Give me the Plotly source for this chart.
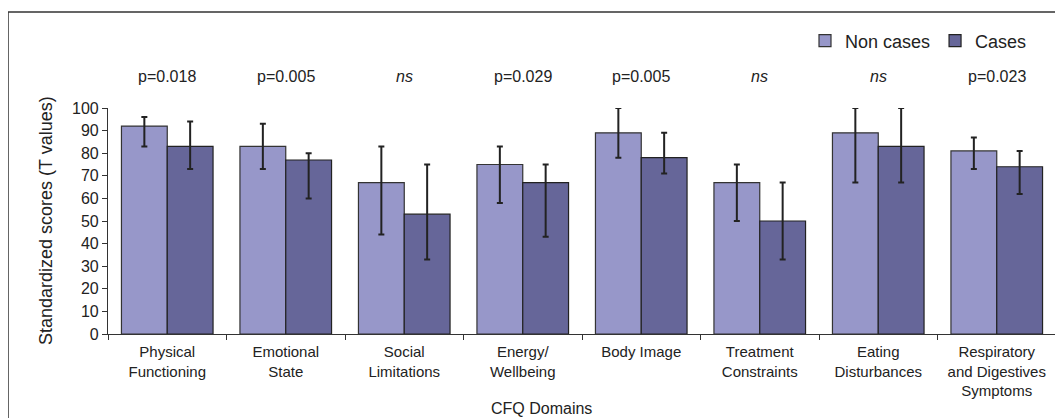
import plotly.graph_objects as go

categories = ["Physical<br>Functioning", "Emotional<br>State", "Social<br>Limitations",
              "Energy/<br>Wellbeing", "Body Image", "Treatment<br>Constraints",
              "Eating<br>Disturbances", "Respiratory<br>and Digestives<br>Symptoms"]
p_labels = ["p=0.018", "p=0.005", "<i>ns</i>", "p=0.029", "p=0.005", "<i>ns</i>", "<i>ns</i>", "p=0.023"]

non_cases = [92, 83, 67, 75, 89, 67, 89, 81]
non_cases_hi = [96, 93, 83, 83, 100, 75, 100, 87]
non_cases_lo = [83, 73, 44, 58, 78, 50, 67, 73]

cases = [83, 77, 53, 67, 78, 50, 83, 74]
cases_hi = [94, 80, 75, 75, 89, 67, 100, 81]
cases_lo = [73, 60, 33, 43, 71, 33, 67, 62]

FONT = "Liberation Sans, Arial, sans-serif"
OFF = 8  # page body margin
# target screen positions
SL, SR, ST, SB = 108, 1056, 108, 334
W, H = 1063 - OFF, 418 - OFF
L, T = SL - OFF, ST - OFF
R = W - (SR - OFF)
B = H - (SB - OFF)
pw, ph = SR - SL, SB - ST


def px_x(p):
    return (p - SL) / pw


def px_y(p):
    return (SB - p) / ph


def err(vals, hi, lo):
    return dict(type="data", symmetric=False,
                array=[h - v for v, h in zip(vals, hi)],
                arrayminus=[v - l for v, l in zip(vals, lo)],
                color="#222222", thickness=2, width=3)


fig = go.Figure()
fig.add_trace(go.Bar(name="Non cases", x=categories, y=non_cases,
                     marker=dict(color="#9797C9", line=dict(color="#333333", width=1.2)),
                     error_y=err(non_cases, non_cases_hi, non_cases_lo), cliponaxis=False))
fig.add_trace(go.Bar(name="Cases", x=categories, y=cases,
                     marker=dict(color="#666699", line=dict(color="#222222", width=1.2)),
                     error_y=err(cases, cases_hi, cases_lo), cliponaxis=False))

for c, p in zip(categories, p_labels):
    fig.add_annotation(x=c, y=px_y(77), xref="x", yref="paper", text=p, showarrow=False,
                       font=dict(size=16, color="#222222", family=FONT), yanchor="middle")

fig.add_annotation(x=px_x(46), y=px_y(221), xref="paper", yref="paper",
                   text="Standardized scores (T values)", textangle=-90, showarrow=False,
                   font=dict(size=18, color="#222222", family=FONT),
                   xanchor="center", yanchor="middle")
fig.add_annotation(x=px_x(541), y=px_y(408), xref="paper", yref="paper", text="CFQ Domains",
                   showarrow=False, font=dict(size=16, color="#222222", family=FONT),
                   xanchor="center", yanchor="middle")

fig.add_shape(type="rect", xref="paper", yref="paper",
              x0=px_x(8), x1=px_x(1080), y0=px_y(440), y1=px_y(12),
              line=dict(color="#333333", width=1.5))

fig.update_layout(
    width=W, height=H, margin=dict(l=L, r=R, t=T, b=B, autoexpand=False),
    plot_bgcolor="white", paper_bgcolor="white",
    barmode="group", bargap=0.227, bargroupgap=0,
    font=dict(family=FONT, color="#222222", size=14),
    showlegend=True,
    legend=dict(orientation="h", x=px_x(1032), xanchor="right", y=px_y(41), yanchor="middle",
                font=dict(size=18, family=FONT, color="#222222"), bgcolor="rgba(0,0,0,0)",
                itemwidth=30, tracegroupgap=0),
)
fig.update_xaxes(showline=True, linecolor="#333333", linewidth=1.2, ticks="outside",
                 tickson="boundaries", ticklen=5, tickcolor="#333333",
                 ticklabelstandoff=4,
                 tickfont=dict(size=15, family=FONT, color="#222222"), showgrid=False)
fig.update_yaxes(range=[0, 100], showline=True, linecolor="#333333", linewidth=1.2,
                 ticks="outside", ticklen=5, tickcolor="#333333", dtick=10, tick0=0,
                 tickfont=dict(size=16, family=FONT, color="#222222"), showgrid=False,
                 zeroline=False)

fig.write_html("out.html")
